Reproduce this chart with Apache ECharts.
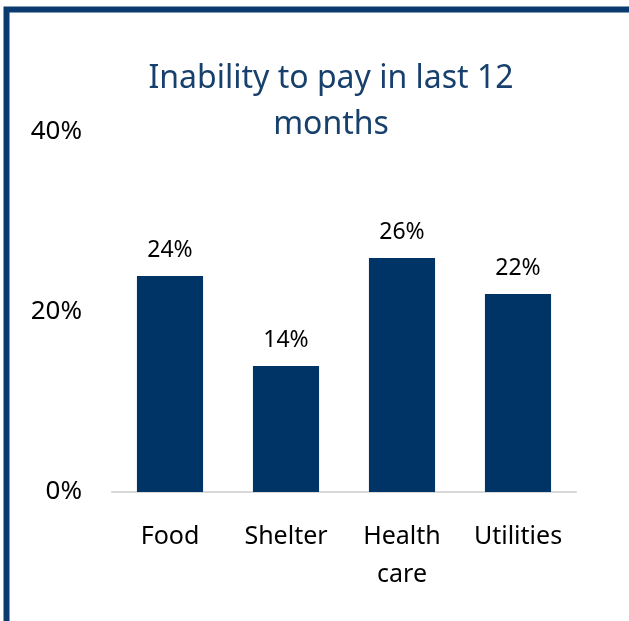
<!DOCTYPE html>
<html><head><meta charset="utf-8">
<script src="https://cdn.jsdelivr.net/npm/echarts@6/dist/echarts.min.js"></script>
<style>html,body{margin:0;padding:0;background:#fff}#c{width:629px;height:621px}</style>
</head><body><div id="c"></div>
<script>
const categories = ['Food', 'Shelter', 'Health\ncare', 'Utilities'];
const values = [24, 14, 26, 22];
const yTicks = [0, 20, 40];
const titleText = 'Inability to pay in last 12\nmonths';

const chart = echarts.init(document.getElementById('c'));
const font = 'Noto Sans';
chart.setOption({
  animation: false,
  graphic: [{
    type: 'rect', shape: {x: 6.5, y: 9.5, width: 700, height: 700},
    style: {fill: 'none', stroke: '#0B3A6E', lineWidth: 6}
  }],
  title: {
    text: titleText, left: 326, textAlign: 'center', top: 51,
    textStyle: {color: '#17406D', fontFamily: font, fontSize: 32, fontWeight: 'normal', lineHeight: 46}
  },
  grid: {left: 112, right: 53, top: 132, bottom: 129},
  xAxis: {
    type: 'category', data: categories,
    axisLine: {lineStyle: {color: '#D9D9D9', width: 2}},
    axisTick: {show: false},
    axisLabel: {interval: 0, color: '#000', fontFamily: font, fontSize: 25, margin: 26, lineHeight: 38}
  },
  yAxis: {
    type: 'value', min: 0, max: 40, interval: 20,
    splitLine: {show: false},
    axisLine: {show: false}, axisTick: {show: false},
    axisLabel: {color: '#000', fontFamily: font, fontSize: 26, margin: 30, formatter: v => v + '%'}
  },
  series: [{
    type: 'bar', data: values, barWidth: '57%',
    itemStyle: {color: '#003366'},
    label: {show: true, position: 'top', distance: 14, color: '#000', fontFamily: font, fontSize: 23, formatter: p => p.value + '%'}
  }]
});
</script></body></html>
